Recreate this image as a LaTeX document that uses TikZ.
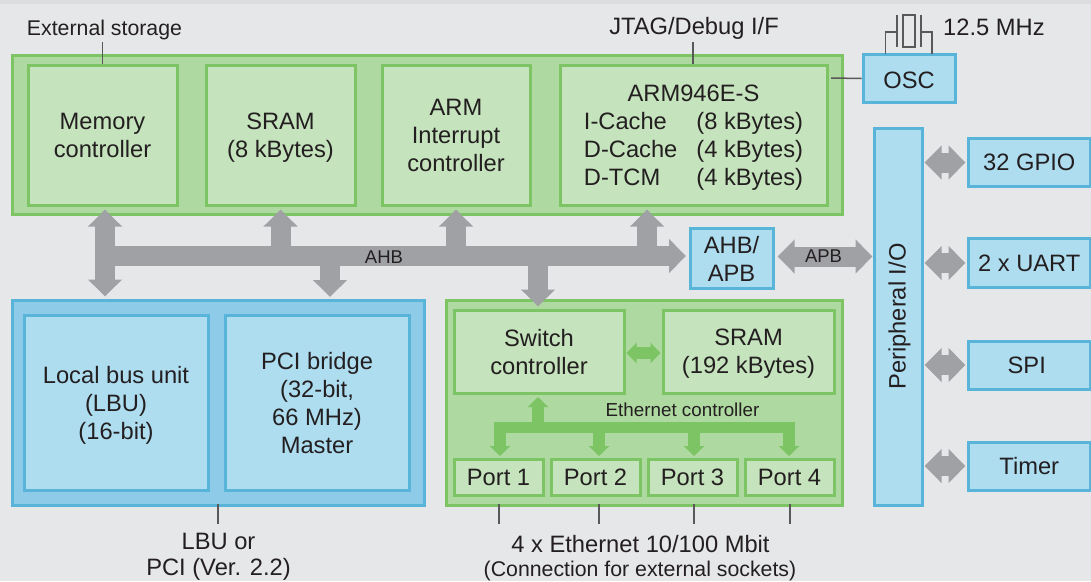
\documentclass[tikz,border=0pt]{standalone}
\usepackage{fontspec}
\setmainfont{Liberation Sans}
\usetikzlibrary{arrows.meta}
\definecolor{pagegrey}{HTML}{E6E7E9}
\definecolor{stripgrey}{HTML}{DCDDDF}
\definecolor{busgrey}{HTML}{A0A1A5}
\definecolor{inkgrey}{HTML}{231F20}
\definecolor{greenline}{HTML}{7DC465}
\definecolor{greenouter}{HTML}{AED9A0}
\definecolor{greeninner}{HTML}{C5E3BC}
\definecolor{blueline}{HTML}{59B4DA}
\definecolor{blueouter}{HTML}{8DCBE8}
\definecolor{blueinner}{HTML}{AEDDF0}
\tikzset{
% Block styles: green and blue, outer frame and inner box
block/.style={rectangle,draw,line width=3pt,inner sep=0pt,align=center,text=inkgrey,text depth=0pt},
green outer/.style={block,draw=greenline,fill=greenouter},
green inner/.style={block,draw=greenline,fill=greeninner},
blue outer/.style={block,draw=blueline,fill=blueouter},
blue inner/.style={block,draw=blueline,fill=blueinner},
% Free text and thin leads
caption/.style={inner sep=0pt,align=center,text=inkgrey},
lead/.style={draw=black!65,line width=1.5pt},
% Thick buses
grey bus/.style={draw=busgrey,line width=20pt},
grey both/.style={grey bus,{Triangle[width=33pt,length=17pt]}-{Triangle[width=33pt,length=17pt]}},
grey tip/.style={grey bus,-{Triangle[width=33pt,length=17pt]}},
green bus/.style={draw=greenline,line width=11.5pt},
green both/.style={green bus,{Triangle[width=20pt,length=10pt]}-{Triangle[width=20pt,length=10pt]}},
green tip/.style={green bus,-{Triangle[width=20pt,length=10pt]}}
}

\begin{document}
\begin{tikzpicture}[x=1pt,y=-1pt,font=\fontsize{23.7}{28}\selectfont]
      \useasboundingbox (0,0) rectangle (1091,581);
      \fill[pagegrey] (0,0) rectangle (1091,581);
      \fill[stripgrey] (0,0) rectangle (1091,4);
      % Upper green block
      \node(core)[green outer,minimum width=830,minimum height=159] at (427,134.5){};
      \node(mem)[green inner,minimum width=149,minimum height=140] at (102.5,135){Memory\\controller};
      \node(sram)[green inner,minimum width=149,minimum height=140] at (280.5,135){SRAM\\(8 kBytes)};
      \node(irq)[green inner,minimum width=148,minimum height=140] at (456,135){ARM\\Interrupt\\controller};
      \node(arm)[green inner,text height=101pt,minimum width=267,minimum height=140] at (693.5,135){%
        \begin{tabular}[b]{@{}l@{\hspace{19pt}}l@{}}
          \multicolumn{2}{c}{ARM946E-S}\\
          I-Cache&(8 kBytes)\\
          D-Cache&(4 kBytes)\\
          D-TCM&(4 kBytes)
        \end{tabular}};
      % Lower blue block
      \node(bus unit)[blue outer,minimum width=412,minimum height=205] at (218,402.5){};
      \node(lbu)[blue inner,minimum width=184,minimum height=175] at (116,402.5){Local bus unit\\(LBU)\\(16-bit)};
      \node(pci)[blue inner,minimum width=184,minimum height=175] at (317,402.5){PCI bridge\\(32-bit,\\66 MHz)\\Master};
      % Ethernet block
      \node(eth)[green outer,minimum width=396,minimum height=205] at (644,402.5){};
      \node(switch)[green inner,minimum width=170,minimum height=83] at (539,351.5){Switch\\controller};
      \node(eth sram)[green inner,minimum width=171,minimum height=83] at (748.5,351.5){SRAM\\(192 kBytes)};
      \node(port1)[green inner,minimum width=89,minimum height=36] at (498.5,477){Port 1};
      \node(port2)[green inner,minimum width=89,minimum height=36] at (595.5,477){Port 2};
      \node(port3)[green inner,minimum width=89,minimum height=36] at (692.5,477){Port 3};
      \node(port4)[green inner,minimum width=89,minimum height=36] at (789.5,477){Port 4};
      % Blue blocks on the right
      \node(bridge)[blue inner,text height=47pt,minimum width=83,minimum height=60] at (731.5,258){AHB/\\APB};
      \node(osc)[blue inner,text height=20pt,minimum width=92,minimum height=48] at (909,78.5){OSC};
      \node(periph)[blue inner,minimum width=48,minimum height=377] at (898,316.5){};
      \node[caption,rotate=90,yshift=-1.5pt] at (periph.center){Peripheral I/O};
      \node(gpio)[blue inner,minimum width=121.5,minimum height=48] at (1029.25,162.5){32 GPIO};
      \node(uart)[blue inner,minimum width=121.5,minimum height=49] at (1029.25,263){2 x UART};
      \node(spi)[blue inner,minimum width=121.5,minimum height=48] at (1029.25,365){SPI\hspace{5pt}};
      \node(timer)[blue inner,minimum width=121.5,minimum height=48] at (1029.25,466){Timer};
      % Grey buses
      \coordinate(ahb left) at (105,256);
      \coordinate(ahb right) at (686,256);
      \coordinate(mem tip) at (105,209.5);
      \coordinate(lbu tip) at (105,296.5);
      \coordinate(sram tip) at (280.5,209.5);
      \coordinate(irq tip) at (456,209.5);
      \coordinate(arm tip) at (647,209.5);
      \coordinate(pci tip) at (330,297);
      \coordinate(switch tip) at (538,306.5);
      \draw[grey both](mem tip)--(lbu tip);
      \draw[grey tip](ahb left)--(ahb right);
      \draw[grey tip](sram tip |- ahb left)--(sram tip);
      \draw[grey tip](irq tip |- ahb left)--(irq tip);
      \draw[grey tip](arm tip |- ahb left)--(arm tip);
      \draw[grey tip](pci tip |- ahb left)--(pci tip);
      \draw[grey tip](switch tip |- ahb left)--(switch tip);
      \draw[grey both](bridge.east |- 0,256.5)++(3,0)--(periph.west |- 0,256.5);
      \draw[grey both]([xshift=1]periph.east |- gpio)--([xshift=-1.5]gpio.west);
      \draw[grey both]([xshift=1]periph.east |- uart)--([xshift=-1.5]uart.west);
      \draw[grey both]([xshift=1]periph.east |- spi)--([xshift=-1.5]spi.west);
      \draw[grey both]([xshift=1]periph.east |- timer)--([xshift=-1.5]timer.west);
      \node[caption,font=\fontsize{18.5}{22}\selectfont] at (384,257){AHB};
      \node[caption,font=\fontsize{18.5}{22}\selectfont] at (823.5,256.5){APB};
      % Green buses
      \coordinate(eth left) at (494,427.5);
      \coordinate(eth right) at (795,427.5);
      \draw[green both]([xshift=1,yshift=-1.5]switch.east)--([xshift=-1,yshift=-1.5]eth sram.west);
      \draw[green bus](eth left)--(eth right);
      \draw[green tip](538,427.5)--(538,397);
      \draw[green tip](500,422)--(500,456);
      \draw[green tip](599,427.5)--(599,456);
      \draw[green tip](694,427.5)--(694,456);
      \draw[green tip](789,422)--(789,456);
      \node[caption,font=\fontsize{18.8}{22}\selectfont] at (682.5,409.5){Ethernet controller};
      % Leads
      \coordinate(lead store) at (102.5,42);
      \coordinate(lead jtag) at (693,42);
      \draw[lead](lead store)--(mem.north);
      \draw[lead](lead jtag)--(lead jtag |- arm.north);
      \draw[lead](831,78)--(osc.west);
      \draw[lead](885.5,54)--(885.5,32)--(897,32);
      \draw[lead](932,54)--(932,32)--(921,32);
      \draw[lead](897,15)--(897,47);
      \draw[lead](921,15)--(921,47);
      \draw[lead](903,15) rectangle (915,47);
      \draw[lead](218,504)--(218,524);
      \draw[lead](499,504)--(499,524);
      \draw[lead](599,504)--(599,524);
      \draw[lead](694,504)--(694,524);
      \draw[lead](790,504)--(790,524);
      % Free labels
      \node[caption,font=\fontsize{21.3}{26}\selectfont] at (104.5,29.5){External storage};
      \node[caption] at (694,28.5){JTAG/Debug I/F};
      \node[caption,anchor=west] at (943,27){12.5 MHz};
      \node[caption,font=\fontsize{23.7}{26}\selectfont] at (218.5,557){LBU or\\PCI (Ver. 2.2)};
      \node[caption] at (640.5,544){4 x Ethernet 10/100 Mbit};
      \node[caption,font=\fontsize{21.3}{24}\selectfont] at (640,571){(Connection for external sockets)};
    \end{tikzpicture}
\end{document}
